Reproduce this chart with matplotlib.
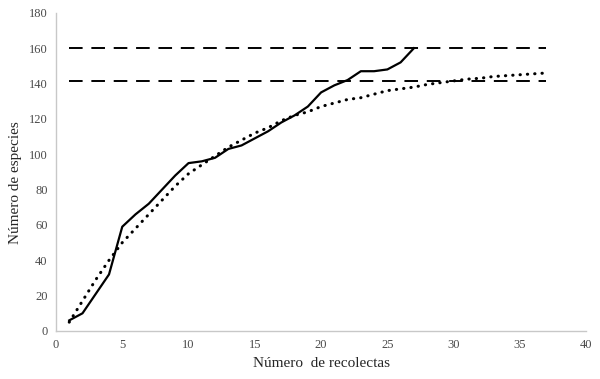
import matplotlib
matplotlib.use("Agg")
import matplotlib.pyplot as plt

# curva observada (especies acumuladas por recolecta)
recolectas_obs = list(range(1, 28))
especies_obs = [6, 10, 21, 32, 59, 66, 72, 80, 88, 95, 96, 98, 103, 105, 109,
                113, 118, 122, 127, 135, 139, 142, 147, 147, 148, 152, 160]

# curva ajustada (punteada)
recolectas_est = list(range(1, 38))
especies_est = [5, 17, 29, 40, 50, 58, 66, 74, 82, 89, 94, 99, 104, 108, 112,
                115, 119, 122, 124, 127, 129, 131, 132, 134, 136, 137, 138,
                139.5, 140.5, 141.5, 142.5, 143, 144, 144.5, 145, 145.5, 146]

# asintotas
asintotas = [160, 141.5]
x_asint = [1, 37]

plt.rcParams['font.family'] = ['Liberation Serif', 'DejaVu Serif']

fig = plt.figure(figsize=(6, 3.79), dpi=100)
ax = fig.add_axes([0.0933, 0.1267, 0.8837, 0.8393])

for a in asintotas:
    ax.plot(x_asint, [a, a], color="black", lw=1.4, linestyle=(0, (7, 4.5)))
ax.plot(recolectas_est, especies_est, color="black", lw=2.2,
        linestyle=(0, (0.1, 2.3)), dash_capstyle="round")
ax.plot(recolectas_obs, especies_obs, color="black", lw=1.6)

ax.set_xlim(0, 40)
ax.set_ylim(0, 180)
ax.set_xticks(range(0, 41, 5))
ax.set_yticks(range(0, 181, 20))
ax.tick_params(length=0, labelsize=9, colors="#4a4a4a", pad=6)
for s in ["top", "right"]:
    ax.spines[s].set_visible(False)
for s in ["left", "bottom"]:
    ax.spines[s].set_color("#c8c8c8")
    ax.spines[s].set_linewidth(1)

ax.set_xlabel("Número  de recolectas", fontsize=11, color="#262626", labelpad=4)
ax.set_ylabel("Número de especies", fontsize=11, color="#262626")
ax.yaxis.set_label_coords(-0.064, 0.465)

fig.savefig("out.png", dpi=100)
